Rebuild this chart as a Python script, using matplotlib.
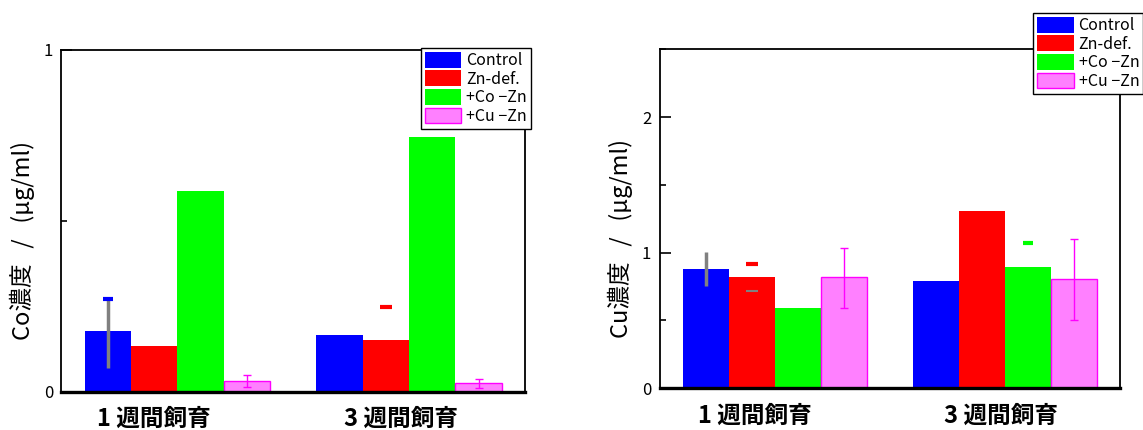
import matplotlib
matplotlib.use("Agg")
import matplotlib.pyplot as plt
import numpy as np
from matplotlib.patches import Patch
from matplotlib.ticker import MultipleLocator, NullFormatter

plt.rcParams['font.family'] = ['Noto Sans CJK JP', 'DejaVu Sans']

# ---------------- data ----------------
categories = ["1 週間飼育", "3 週間飼育"]
series_names = ["Control", "Zn-def.", "+Co −Zn", "+Cu −Zn"]

# Co concentration (left panel)
co_control = [0.178, 0.166]
co_zndef = [0.134, 0.151]
co_coplus = [0.587, 0.745]
co_cuplus = [0.031, 0.024]
co_control_err_lo = [0.070, np.nan]
co_control_err_hi = [0.270, np.nan]
co_control_cap = [0.270, np.nan]
co_zndef_cap = [np.nan, 0.247]
co_cuplus_err = [0.017, 0.012]

# Cu concentration (right panel)
cu_control = [0.882, 0.793]
cu_zndef = [0.822, 1.310]
cu_coplus = [0.593, 0.897]
cu_cuplus = [0.822, 0.806]
cu_control_err_lo = [0.758, np.nan]
cu_control_err_hi = [1.005, np.nan]
cu_zndef_cap = [0.919, np.nan]
cu_zndef_cap_grey = [0.717, np.nan]
cu_coplus_cap = [np.nan, 1.072]
cu_cuplus_err_lo = [0.591, 0.500]
cu_cuplus_err_hi = [1.035, 1.098]

ylabels = ["Co濃度   /   (µg/ml)", "Cu濃度   /   (µg/ml)"]
ylims = [1.0, 2.5]

# ---------------- style ----------------
colors = ["#0000ff", "#ff0000", "#00ff00", "#ff80ff"]
edge_pink = "#ff00ff"
grey = "#808080"
bar_w = 0.2
offsets = np.array([-1.5, -0.5, 0.5, 1.5]) * bar_w

fig = plt.figure(figsize=(11.43, 4.30), dpi=100)
ax1 = fig.add_axes([0.0537, 0.0891, 0.4056, 0.7947])
ax2 = fig.add_axes([0.5771, 0.0970, 0.4028, 0.7884])

x = np.arange(len(categories))


def draw_bars(ax, vals_list):
    for i, vals in enumerate(vals_list):
        ec = edge_pink if i == 3 else colors[i]
        ax.bar(x + offsets[i], vals, width=bar_w, color=colors[i],
               edgecolor=ec, linewidth=1 if i == 3 else 0, zorder=2)


def style_axes(ax, ymax):
    ax.set_xlim(-0.5, 1.5)
    ax.set_ylim(0, ymax)
    ax.yaxis.set_major_locator(MultipleLocator(1))
    ax.yaxis.set_minor_locator(MultipleLocator(0.5))
    ax.yaxis.set_minor_formatter(NullFormatter())
    ax.tick_params(axis='y', which='major', direction='in', length=8,
                   width=1.2, labelsize=12, pad=6)
    ax.tick_params(axis='y', which='minor', direction='in', length=4,
                   width=1.2)
    ax.set_xticks([])
    for s in ['left', 'top', 'right']:
        ax.spines[s].set_linewidth(1.3)
    ax.spines['bottom'].set_linewidth(2.4)
    ax.spines['bottom'].set_zorder(5)


# ---- left panel ----
draw_bars(ax1, [co_control, co_zndef, co_coplus, co_cuplus])
lo = np.array(co_control) - np.array(co_control_err_lo)
hi = np.array(co_control_err_hi) - np.array(co_control)
ax1.errorbar(x + offsets[0], co_control, yerr=[lo, hi], fmt='none',
             ecolor=grey, elinewidth=2.5, capsize=0, zorder=3)
ax1.plot(x + offsets[0], co_control_cap, ls='none', marker='_', ms=7,
         mew=3, color=colors[0], zorder=4)
ax1.plot(x + offsets[1], co_zndef_cap, ls='none', marker='_', ms=9,
         mew=3, color=colors[1], zorder=4)
ax1.errorbar(x + offsets[3], co_cuplus, yerr=co_cuplus_err, fmt='none',
             ecolor=edge_pink, elinewidth=1, capsize=3, capthick=1, zorder=3)
style_axes(ax1, ylims[0])

# ---- right panel ----
draw_bars(ax2, [cu_control, cu_zndef, cu_coplus, cu_cuplus])
lo = np.array(cu_control) - np.array(cu_control_err_lo)
hi = np.array(cu_control_err_hi) - np.array(cu_control)
ax2.errorbar(x + offsets[0], cu_control, yerr=[lo, hi], fmt='none',
             ecolor=grey, elinewidth=2.5, capsize=0, zorder=3)
ax2.plot(x + offsets[1], cu_zndef_cap, ls='none', marker='_', ms=9,
         mew=3, color=colors[1], zorder=4)
ax2.plot(x + offsets[1], cu_zndef_cap_grey, ls='none', marker='_', ms=9,
         mew=1.5, color=grey, zorder=4)
ax2.plot(x + offsets[2], cu_coplus_cap, ls='none', marker='_', ms=7,
         mew=3, color=colors[2], zorder=4)
lo = np.array(cu_cuplus) - np.array(cu_cuplus_err_lo)
hi = np.array(cu_cuplus_err_hi) - np.array(cu_cuplus)
ax2.errorbar(x + offsets[3], cu_cuplus, yerr=[lo, hi], fmt='none',
             ecolor=edge_pink, elinewidth=1, capsize=3, capthick=1, zorder=3)
style_axes(ax2, ylims[1])

# ---- category labels ----
label_shift = [[-0.10, -0.035], [-0.085, -0.017]]
for ax, shifts in zip([ax1, ax2], label_shift):
    for i, cat in enumerate(categories):
        ax.annotate(cat, xy=(x[i] + shifts[i], 0), xycoords=('data', 'axes fraction'),
                    xytext=(0, -27), textcoords='offset pixels',
                    ha='center', va='center', fontsize=17, fontweight='bold')

# ---- y labels ----
fig.text(22 / 1143, 1 - 240 / 430, ylabels[0], rotation=90,
         ha='center', va='center', fontsize=17)
fig.text(620 / 1143, 1 - 239 / 430, ylabels[1], rotation=90,
         ha='center', va='center', fontsize=17)

# ---- legends ----
handles = [Patch(facecolor=colors[i], edgecolor=(edge_pink if i == 3 else colors[i]),
                 linewidth=1 if i == 3 else 0) for i in range(4)]
leg_pos = [(420.7 / 1143, 1 - 47.7 / 430), (1033 / 1143, 1 - 12.7 / 430)]
for pos in leg_pos:
    leg = fig.legend(handles, series_names, loc='upper left', bbox_to_anchor=pos,
                     fontsize=11.5, handlelength=2.3, handleheight=1.15,
                     labelspacing=0.08, handletextpad=0.3, borderpad=0.25,
                     borderaxespad=0, fancybox=False, framealpha=1,
                     edgecolor='black')
    leg.get_frame().set_linewidth(1)

fig.savefig("out.png", dpi=100)
